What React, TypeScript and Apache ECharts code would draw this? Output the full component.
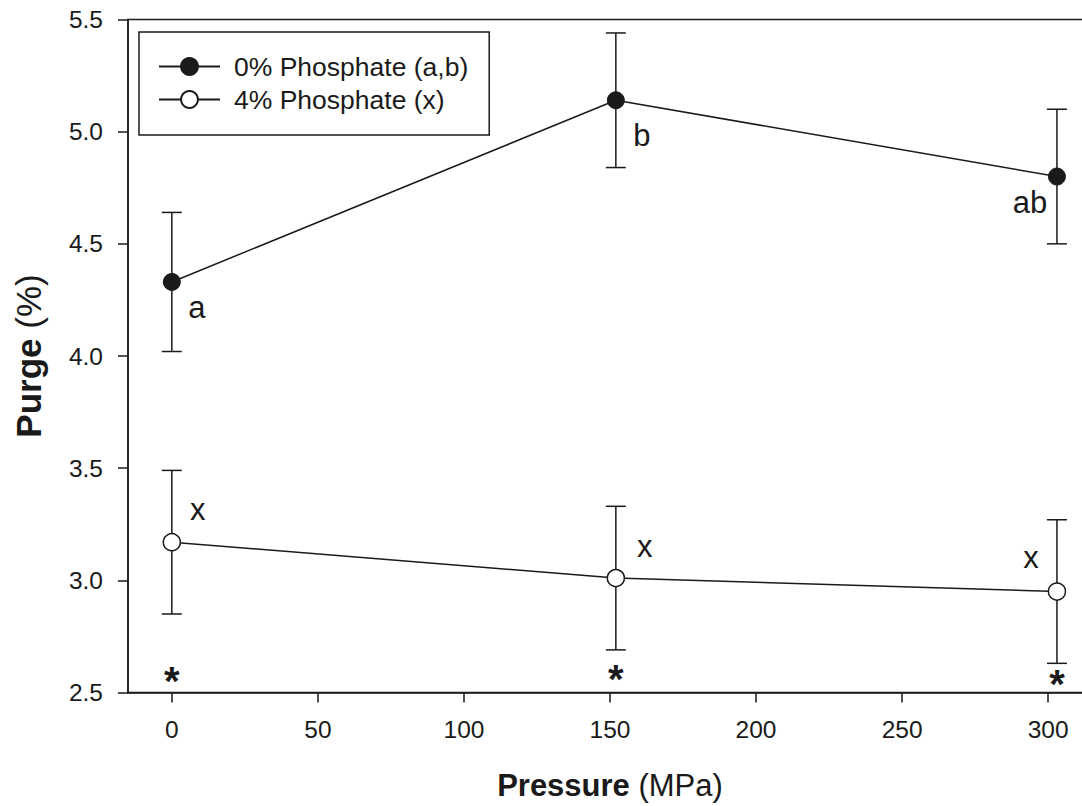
import React, { useEffect, useRef } from "react";
import * as echarts from "echarts";

// ---- data ----
const pressures = [0, 152, 303];
const xTicks = [0, 50, 100, 150, 200, 250, 300];
const series0Name = "0% Phosphate (a,b)";
const series4Name = "4% Phosphate (x)";
const purge0 = [4.33, 5.14, 4.8];
const purge0Low = [4.02, 4.84, 4.5];
const purge0High = [4.64, 5.44, 5.1];
const purge4 = [3.17, 3.01, 2.95];
const purge4Low = [2.85, 2.69, 2.63];
const purge4High = [3.49, 3.33, 3.27];
const letters0 = ["a", "b", "ab"];
const letters4 = ["x", "x", "x"];
const starY = [2.551, 2.558, 2.536];
const starText = ["*", "*", "*"];

// ---- styles ----
const INK = "#1a1a1a";
const FONT = "'Liberation Sans', Arial, Helvetica, sans-serif";
const offsets0: [number, number][] = [[25, 26], [26, 35], [-27, 26]];
const offsets4: [number, number][] = [[26, -33], [29, -32], [-26, -34]];

export default function App() {
  const ref = useRef<HTMLDivElement>(null);
  useEffect(() => {
    if (!ref.current) return;
    const chart = echarts.init(ref.current, null, { renderer: "svg" });

    const letterLabel = (txt: string, off: [number, number]) => ({
      show: true,
      position: "inside",
      formatter: txt,
      offset: off,
      align: "center",
      verticalAlign: "middle",
      fontSize: 31,
      fontFamily: FONT,
      color: INK,
      textBorderWidth: 0,
    });

    const errRender = (params: any, api: any) => {
      const x = api.value(0);
      const lo = api.coord([x, api.value(1)]);
      const hi = api.coord([x, api.value(2)]);
      const hw = 10;
      const style = { stroke: INK, lineWidth: 1.5, fill: null };
      return {
        type: "group",
        children: [
          { type: "line", shape: { x1: lo[0], y1: lo[1], x2: hi[0], y2: hi[1] }, style },
          { type: "line", shape: { x1: lo[0] - hw, y1: lo[1], x2: lo[0] + hw, y2: lo[1] }, style },
          { type: "line", shape: { x1: hi[0] - hw, y1: hi[1], x2: hi[0] + hw, y2: hi[1] }, style },
        ],
      };
    };

    const option: any = {
      animation: false,
      grid: {
        left: 128,
        right: 8,
        top: 19.5,
        bottom: 113.5,
        show: true,
        borderColor: INK,
        borderWidth: 1.5,
        backgroundColor: "transparent",
      },
      legend: {
        data: [series0Name, series4Name],
        orient: "vertical",
        left: 139,
        top: 32,
        padding: [21, 21, 22, 19],
        itemGap: 6,
        itemWidth: 61,
        itemHeight: 21,
        borderColor: INK,
        borderWidth: 1.5,
        textStyle: { fontSize: 26.5, fontFamily: FONT, color: INK, padding: [0, 0, 0, 9] },
        selectedMode: false,
      },
      xAxis: {
        type: "value",
        min: -15,
        max: 315,
        name: "{b|Pressure}{r| (MPa)}",
        nameLocation: "middle",
        nameGap: 93,
        nameTextStyle: {
          verticalAlign: "middle",
          align: "center",
          rich: {
            b: { fontSize: 31, fontWeight: "bold", fontFamily: FONT, color: INK },
            r: { fontSize: 31, fontFamily: FONT, color: INK },
          },
        },
        axisLine: { show: true, onZero: false, lineStyle: { color: INK, width: 1.5 } },
        axisTick: { show: true, length: 10, inside: false, customValues: xTicks, lineStyle: { color: INK, width: 1.5 } },
        axisLabel: { customValues: xTicks, margin: 24, fontSize: 24.5, fontFamily: FONT, color: INK },
        splitLine: { show: false },
      },
      yAxis: {
        type: "value",
        min: 2.5,
        max: 5.5,
        interval: 0.5,
        name: "{b|Purge}{r| (%)}",
        nameLocation: "middle",
        nameGap: 100,
        nameRotate: 90,
        nameTextStyle: {
          verticalAlign: "middle",
          align: "center",
          rich: {
            b: { fontSize: 35, fontWeight: "bold", fontFamily: FONT, color: INK },
            r: { fontSize: 35, fontFamily: FONT, color: INK },
          },
        },
        axisLine: { show: true, onZero: false, lineStyle: { color: INK, width: 1.5 } },
        axisTick: { show: true, length: 10, inside: false, lineStyle: { color: INK, width: 1.5 } },
        axisLabel: {
          margin: 25,
          fontSize: 24.5,
          fontFamily: FONT,
          color: INK,
          formatter: (v: number) => v.toFixed(1),
        },
        splitLine: { show: false },
      },
      series: [
        {
          type: "custom",
          name: "err0",
          renderItem: errRender,
          encode: { x: 0, y: [1, 2] },
          data: pressures.map((p, i) => [p, purge0Low[i], purge0High[i]]),
          z: 1,
          silent: true,
        },
        {
          type: "custom",
          name: "err4",
          renderItem: errRender,
          encode: { x: 0, y: [1, 2] },
          data: pressures.map((p, i) => [p, purge4Low[i], purge4High[i]]),
          z: 1,
          silent: true,
        },
        {
          type: "line",
          name: series0Name,
          symbol: "circle",
          symbolSize: 17,
          lineStyle: { color: INK, width: 1.5 },
          itemStyle: { color: INK, borderColor: INK, borderWidth: 1 },
          data: pressures.map((p, i) => ({
            value: [p, purge0[i]],
            label: letterLabel(letters0[i], offsets0[i]),
          })),
          z: 3,
        },
        {
          type: "line",
          name: series4Name,
          symbol: "circle",
          symbolSize: 17,
          lineStyle: { color: INK, width: 1.5 },
          itemStyle: { color: "#ffffff", borderColor: INK, borderWidth: 1.5 },
          data: pressures.map((p, i) => ({
            value: [p, purge4[i]],
            label: letterLabel(letters4[i], offsets4[i]),
          })),
          z: 3,
        },
        {
          type: "scatter",
          name: "significance",
          symbolSize: 0,
          silent: true,
          itemStyle: { color: INK, opacity: 1 },
          data: pressures.map((p, i) => ({
            value: [p, starY[i]],
            label: {
              show: true,
              position: "inside",
              formatter: starText[i],
              fontSize: 40,
              fontWeight: "bold",
              fontFamily: FONT,
              color: INK,
              opacity: 1,
              textBorderWidth: 0,
              align: "center",
              verticalAlign: "middle",
            },
          })),
          z: 4,
        },
      ],
    };
    chart.setOption(option);
    return () => chart.dispose();
  }, []);

  return (
    <div
      ref={ref}
      style={{ position: "fixed", left: 0, top: 0, width: 1100, height: 806, background: "#fff" }}
    />
  );
}
